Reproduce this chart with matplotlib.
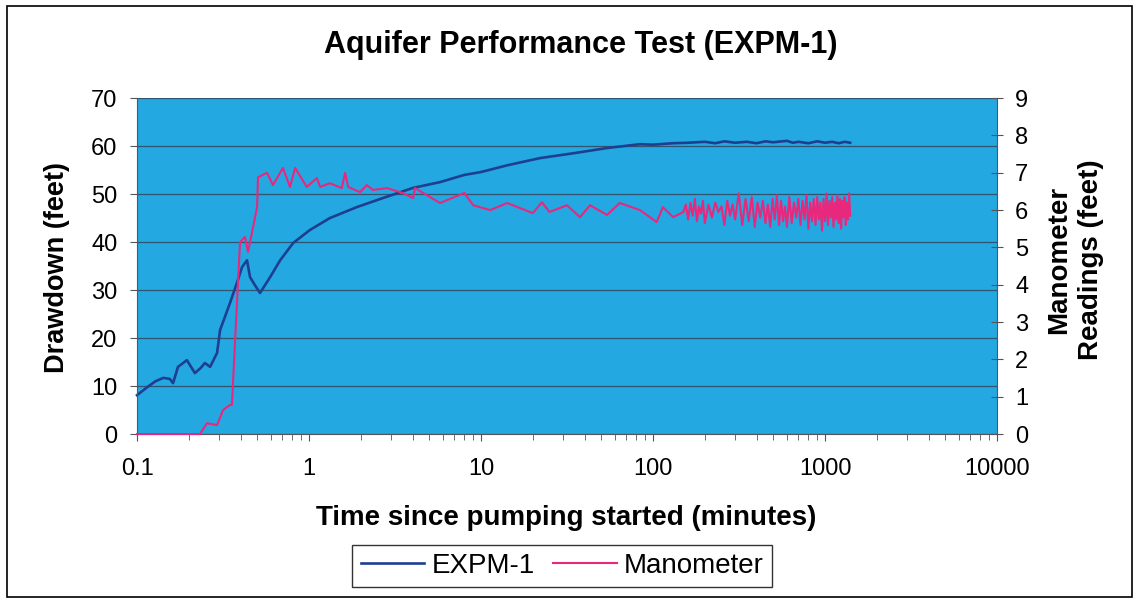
import matplotlib.pyplot as plt
from matplotlib.patches import Rectangle
from matplotlib.ticker import LogLocator, NullFormatter, FixedLocator

plt.rcParams['font.family'] = ['Liberation Sans', 'DejaVu Sans']

# EXPM-1 drawdown (feet) vs time (minutes)
expm_t = [0.1, 0.115, 0.128, 0.142, 0.155, 0.162, 0.173, 0.195, 0.217, 0.235,
          0.248, 0.266, 0.292, 0.304, 0.325, 0.347, 0.381, 0.408, 0.436, 0.454,
          0.485, 0.519, 0.594, 0.679, 0.808, 1.01,
          1.32, 1.9, 2.7, 4.03, 5.78, 8.0, 10.0, 14.2, 22, 34.3,
          54, 84, 100, 131, 160, 200, 230, 260, 300, 350,
          400, 450, 500, 600, 650, 700, 800, 900, 1000, 1100,
          1200, 1300, 1400]
expm_dd = [8.1, 9.8, 11.0, 11.7, 11.5, 10.6, 14.0, 15.4, 12.7, 13.8,
           14.8, 14.0, 16.9, 21.7, 24.5, 27.3, 31.5, 34.8, 36.2, 32.7,
           31.0, 29.4, 32.7, 36.2, 39.8, 42.5,
           45.0, 47.3, 49.2, 51.3, 52.5, 54.0, 54.6, 56.0, 57.5, 58.5,
           59.6, 60.4, 60.3, 60.6, 60.7, 60.9, 60.6, 61.0, 60.7, 60.9,
           60.6, 61.0, 60.8, 61.1, 60.7, 60.9, 60.6, 61.0, 60.7, 60.9,
           60.6, 60.9, 60.7]

# Manometer readings (feet) vs time (minutes)
mano_t = [0.1, 0.232, 0.255, 0.292, 0.316, 0.347, 0.356, 0.397, 0.424, 0.442,
          0.499, 0.505, 0.57, 0.617, 0.705, 0.775, 0.83, 0.97, 1.11, 1.16,
          1.32, 1.55, 1.62, 1.69, 1.98, 2.17, 2.35, 2.85, 3.07, 3.5,
          4.03, 4.13, 4.6, 5.78, 8.0, 9.0, 11.3, 14.2, 20, 22.6,
          25, 31.6, 37.6, 43, 54, 64, 84, 105, 114, 131,
          150, 155, 160, 165, 170, 175, 180, 185, 190, 195,
          200, 210, 220, 230, 240, 250, 260, 270, 280, 290,
          300, 315, 330, 345, 360, 375, 390, 405, 420, 435,
          450, 465, 480, 495, 510, 525, 540, 555, 570, 585,
          600, 620, 640, 660, 680, 700, 720, 740, 760, 780,
          800, 820, 840, 860, 880, 900, 920, 940, 960, 980,
          1000, 1020, 1040, 1060, 1080, 1100, 1120, 1140, 1160, 1180,
          1200, 1220, 1240, 1260, 1280, 1300, 1320, 1340, 1360, 1380,
          1400]
mano_ft = [0, 0, 0.29, 0.24, 0.64, 0.78, 0.78, 5.14, 5.28, 4.88,
           6.08, 6.88, 7.0, 6.67, 7.13, 6.62, 7.13, 6.62, 6.86, 6.62,
           6.72, 6.59, 7.0, 6.62, 6.48, 6.67, 6.54, 6.59, 6.54, 6.46,
           6.32, 6.59, 6.46, 6.19, 6.46, 6.13, 6.0, 6.19, 5.92, 6.21,
           5.95, 6.13, 5.81, 6.13, 5.87, 6.19, 6.0, 5.68, 6.08, 5.81,
           5.95, 6.15, 5.75, 6.20, 5.85, 6.30, 5.70, 6.10, 5.90, 6.25,
           5.65, 6.15, 5.80, 6.20, 5.95, 6.10, 5.60, 6.25, 5.85, 6.15,
           5.75, 6.45, 5.60, 6.30, 5.70, 6.35, 5.55, 6.20, 5.80, 6.25,
           5.65, 6.15, 5.55, 6.30, 5.75, 6.40, 5.60, 6.25, 5.70, 6.10,
           5.55, 6.35, 5.65, 6.20, 5.80, 6.30, 5.60, 6.25, 5.75, 6.40,
           5.50, 6.20, 5.70, 6.30, 5.60, 6.35, 5.75, 6.20, 5.45, 6.30,
           5.70, 6.45, 5.60, 6.25, 5.80, 6.35, 5.55, 6.20, 5.75, 6.40,
           5.65, 6.30, 5.50, 6.25, 5.80, 6.35, 5.60, 6.20, 5.75, 6.45,
           5.85]

fig = plt.figure(figsize=(11.4, 6.02), dpi=100)
ax = fig.add_axes([0.1202, 0.279, 0.7544, 0.558])
ax.set_facecolor('#24A8E2')

ax.plot(expm_t, expm_dd, color='#1E3F90', lw=1.9, label='EXPM-1', clip_on=False)
ax.set_xscale('log')
ax.set_xlim(0.1, 10000)
ax.set_ylim(0, 70)
ax.set_yticks(range(0, 71, 10))
ax.yaxis.grid(True, color='#2E5470', lw=0.9)
ax.set_axisbelow(True)
ax.xaxis.set_major_locator(FixedLocator([0.1, 1, 10, 100, 1000, 10000]))
ax.set_xticklabels(['0.1', '1', '10', '100', '1000', '10000'])
ax.xaxis.set_minor_locator(LogLocator(base=10, subs=range(2, 10)))
ax.xaxis.set_minor_formatter(NullFormatter())
ax.tick_params(axis='both', which='major', labelsize=17, length=5, color='#555555')
ax.tick_params(axis='x', which='major', pad=12)
ax.tick_params(axis='y', which='major', pad=9)
ax.tick_params(axis='x', which='minor', length=4, color='#555555')
for s in ['top', 'right']:
    ax.spines[s].set_visible(False)
ax.spines['left'].set_color('#555555')
ax.spines['bottom'].set_color('#555555')

ax2 = ax.twinx()
ax2.plot(mano_t, mano_ft, color='#E8287C', lw=1.5, label='Manometer', clip_on=False)
ax2.set_ylim(0, 9)
ax2.set_yticks(range(0, 10))
ax2.tick_params(axis='y', labelsize=17, length=8, direction='inout', color='#555555', pad=9)
for s in ['top', 'left', 'bottom']:
    ax2.spines[s].set_visible(False)
ax2.spines['right'].set_color('#555555')

fig.text(0.509, 0.925, 'Aquifer Performance Test (EXPM-1)', ha='center', va='center',
         fontsize=22, fontweight='bold')
fig.text(0.497, 0.1395, 'Time since pumping started (minutes)', ha='center', va='center',
         fontsize=20, fontweight='bold')
fig.text(0.05, 0.556, 'Drawdown (feet)', ha='center', va='center', rotation=90,
         fontsize=19.5, fontweight='bold')
fig.text(0.943, 0.568, 'Manometer\nReadings (feet)', ha='center', va='center', rotation=90,
         fontsize=20, fontweight='bold', linespacing=1.25)

h1, l1 = ax.get_legend_handles_labels()
h2, l2 = ax2.get_legend_handles_labels()
leg = fig.legend(h1 + h2, l1 + l2, loc='center', bbox_to_anchor=(0.493, 0.06), ncol=2,
                 fontsize=20, frameon=True, fancybox=False, handlelength=2.3,
                 handletextpad=0.25, columnspacing=0.65, borderpad=0.3)
leg.get_frame().set_edgecolor('black')
leg.get_frame().set_linewidth(1.0)

fig.patches.append(Rectangle((0.006, 0.008), 0.987, 0.982, transform=fig.transFigure,
                             fill=False, edgecolor='black', lw=1.2))

fig.savefig('out.png', dpi=100)
